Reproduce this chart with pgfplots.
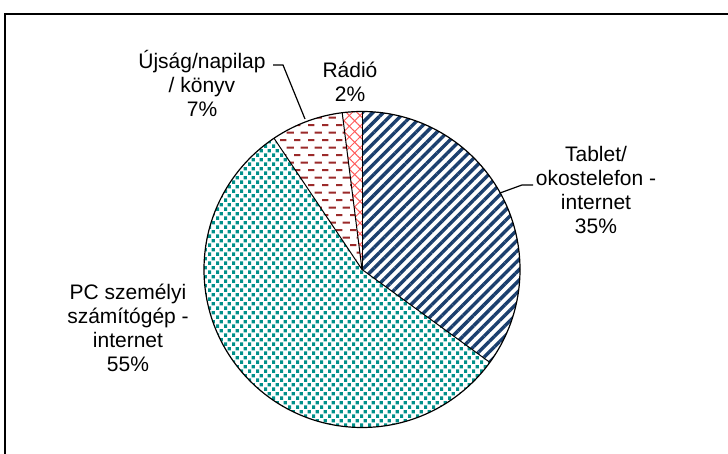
\documentclass[border=0pt]{standalone}
\usepackage{pgfplots}
\pgfplotsset{compat=1.18}
\usepackage{pgfplotstable}
\usetikzlibrary{patterns,patterns.meta}
\usepackage{fontspec}
\setmainfont{Liberation Sans}
\definecolor{cnavy}{HTML}{1B3F6E}
\definecolor{cteal}{HTML}{00908A}
\definecolor{cmaroon}{HTML}{9B2A2A}
\definecolor{cred}{HTML}{FF5A5A}
\tikzdeclarepattern{
  name=pcdots, type=colored,
  bottom left={(0,0)}, top right={(4pt,4.4pt)},
  tile size={(4pt,4.4pt)},
  code={\fill[cteal] (0.1pt,0.1pt) rectangle (1.8pt,1.8pt);
        \fill[cteal] (2.1pt,2.3pt) rectangle (3.8pt,4pt);}
}
\tikzdeclarepattern{
  name=newsdash, type=colored,
  bottom left={(0,0)}, top right={(7pt,7.4pt)},
  tile size={(7pt,7.4pt)},
  code={\fill[cmaroon] (0,0.5pt) rectangle (3.4pt,1.5pt);
        \fill[cmaroon] (3.5pt,4.2pt) rectangle (6.9pt,5.2pt);}
}
\pgfplotstableread{
name value
Tablet 35.0
PC 55.6
News 7.4
Radio 2.0
}\piedata
\pgfplotstablegetelem{0}{value}\of\piedata \global\let\va\pgfplotsretval
\pgfplotstablegetelem{1}{value}\of\piedata \global\let\vb\pgfplotsretval
\pgfplotstablegetelem{2}{value}\of\piedata \global\let\vc\pgfplotsretval
\pgfplotstablegetelem{3}{value}\of\piedata \global\let\vd\pgfplotsretval
\pgfmathsetmacro\aA{90}
\pgfmathsetmacro\aB{\aA-3.6*\va}
\pgfmathsetmacro\aC{\aB-3.6*\vb}
\pgfmathsetmacro\aD{\aC-3.6*\vc}
\pgfmathsetmacro\aE{\aD-3.6*\vd}
\def\cx{181}\def\cy{92.25}\def\R{79pt}
\begin{document}
\begin{tikzpicture}
\useasboundingbox (0,0) rectangle (364pt,227pt);
\begin{axis}[
  at={(0,0)}, anchor=south west,
  scale only axis, width=364pt, height=227pt,
  xmin=0, xmax=364, ymin=0, ymax=227,
  hide axis, clip=false,
]
\draw[line width=0.9pt] (axis cs:2.5,-20) -- (axis cs:2.5,220) -- (axis cs:400,220);
\fill[white] (axis cs:\cx,\cy) circle[radius=\R];
\fill[pattern={Lines[angle=45,distance=3.7pt,line width=1.7pt]}, pattern color=cnavy]
  (axis cs:\cx,\cy) -- ++(\aA:\R) arc[start angle=\aA, end angle=\aB, radius=\R] -- cycle;
\fill[pattern=pcdots]
  (axis cs:\cx,\cy) -- ++(\aB:\R) arc[start angle=\aB, end angle=\aC, radius=\R] -- cycle;
\fill[pattern=newsdash]
  (axis cs:\cx,\cy) -- ++(\aC:\R) arc[start angle=\aC, end angle=\aD, radius=\R] -- cycle;
\fill[pattern={Lines[angle=45,distance=3.8pt,line width=0.5pt]}, pattern color=cred]
  (axis cs:\cx,\cy) -- ++(\aD:\R) arc[start angle=\aD, end angle=\aE, radius=\R] -- cycle;
\fill[pattern={Lines[angle=-45,distance=3.8pt,line width=0.5pt]}, pattern color=cred]
  (axis cs:\cx,\cy) -- ++(\aD:\R) arc[start angle=\aD, end angle=\aE, radius=\R] -- cycle;
\draw[line width=0.5pt] (axis cs:\cx,\cy) -- ++(\aA:\R);
\draw[line width=0.5pt] (axis cs:\cx,\cy) -- ++(\aB:\R);
\draw[line width=0.5pt] (axis cs:\cx,\cy) -- ++(\aC:\R);
\draw[line width=0.5pt] (axis cs:\cx,\cy) -- ++(\aD:\R);
\draw[line width=0.6pt] (axis cs:\cx,\cy) circle[radius=\R];
\draw[line width=0.6pt] (axis cs:136.5,194.5) -- (axis cs:141.5,194.5) -- (axis cs:152.5,167.5);
\draw[line width=0.6pt] (axis cs:266.5,134.5) -- (axis cs:261,134.5) -- (axis cs:250,130.5);
\node[align=center, font=\fontsize{10.5}{12}\selectfont, inner sep=0pt] at (axis cs:101,185.5) {Újság/napilap\\/ könyv\\7\%};
\node[align=center, font=\fontsize{10.5}{12}\selectfont, inner sep=0pt] at (axis cs:175,186) {Rádió\\2\%};
\node[align=center, font=\fontsize{10.5}{12}\selectfont, inner sep=0pt] at (axis cs:298,132) {Tablet/\\okostelefon -\\internet\\35\%};
\node[align=center, font=\fontsize{10.5}{12}\selectfont, inner sep=0pt] at (axis cs:64,63) {PC személyi\\számítógép -\\internet\\55\%};
\end{axis}
\end{tikzpicture}
\end{document}
